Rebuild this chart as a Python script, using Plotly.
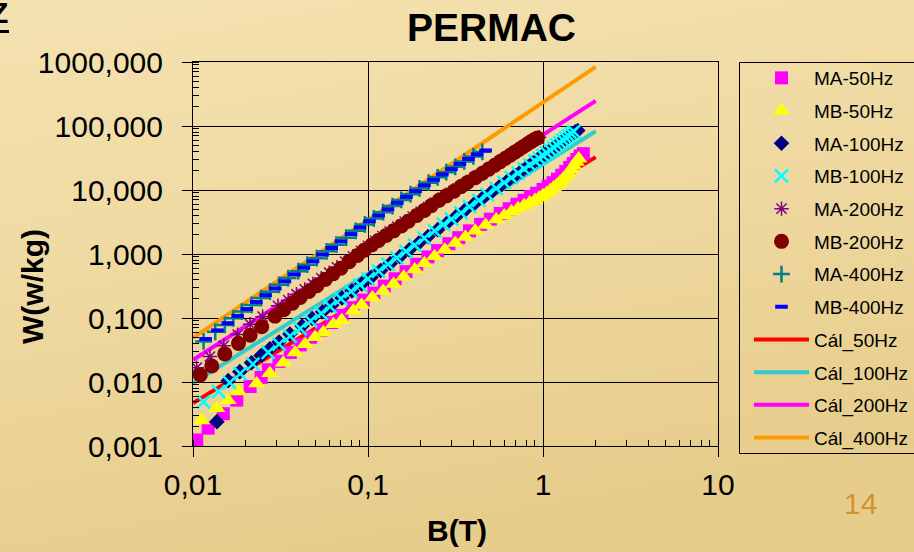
import base64
import plotly.graph_objects as go

# ---------------- data ----------------
B_MA50 = [0.0105, 0.0122, 0.0149, 0.0178, 0.0212, 0.0245, 0.027, 0.031, 0.036, 0.041, 0.047, 0.054,
          0.062, 0.071, 0.082, 0.094, 0.108, 0.124, 0.143, 0.165, 0.19, 0.22, 0.25, 0.29, 0.33, 0.38,
          0.44, 0.5, 0.57, 0.64, 0.71, 0.78, 0.85, 0.92, 1.0, 1.07, 1.14, 1.21, 1.28, 1.35, 1.42, 1.49,
          1.56, 1.63, 1.7]
W_MA50 = [0.00124, 0.0019, 0.0032, 0.0052, 0.0085, 0.0118, 0.0155, 0.021, 0.029, 0.038, 0.050, 0.065,
          0.085, 0.11, 0.145, 0.19, 0.245, 0.315, 0.41, 0.53, 0.69, 0.9, 1.13, 1.45, 1.8, 2.3,
          2.9, 3.5, 4.3, 5.1, 6.0, 6.9, 7.9, 8.9, 10.2, 11.5, 13.0, 14.8, 17.0, 19.5, 22.5, 26.0,
          30.0, 34.0, 37.0]

B_MB50 = [0.0112, 0.0137, 0.0159, 0.0182, 0.0231, 0.0275, 0.0328, 0.0383, 0.0437, 0.0498, 0.0556, 0.0634,
          0.0708, 0.0824, 0.092, 0.106, 0.122, 0.14, 0.16, 0.185, 0.21, 0.24, 0.275, 0.315, 0.36, 0.41,
          0.47, 0.54, 0.6, 0.66, 0.72, 0.78, 0.84, 0.9, 0.95, 1.0, 1.05, 1.1, 1.15, 1.2, 1.25, 1.3,
          1.35, 1.4, 1.45, 1.5, 1.55, 1.6]
W_MB50 = [0.0025, 0.0039, 0.0052, 0.0071, 0.0095, 0.0137, 0.020, 0.029, 0.039, 0.050, 0.060, 0.080,
          0.092, 0.130, 0.160, 0.21, 0.265, 0.34, 0.44, 0.57, 0.72, 0.92, 1.17, 1.48, 1.85, 2.3,
          2.85, 3.45, 4.0, 4.6, 5.2, 5.8, 6.4, 7.0, 7.6, 8.3, 9.0, 9.9, 10.9, 12.0, 13.3, 14.8,
          16.5, 18.5, 21.0, 24.0, 27.5, 31.0]

B_MA100 = [0.0137, 0.0159, 0.0185, 0.0216, 0.0245, 0.0275, 0.031, 0.0358, 0.042, 0.048, 0.055, 0.062,
           0.071, 0.081, 0.092, 0.104, 0.118, 0.134, 0.152, 0.172, 0.195, 0.22, 0.25, 0.285, 0.32,
           0.36, 0.405, 0.455, 0.51, 0.57, 0.63, 0.69, 0.75, 0.81, 0.87, 0.93, 0.98, 1.03, 1.08,
           1.13, 1.18, 1.23, 1.28, 1.33, 1.38, 1.43, 1.48, 1.53, 1.58]
W_MA100 = [0.0024, 0.0105, 0.0145, 0.020, 0.026, 0.033, 0.042, 0.056, 0.075, 0.098, 0.125, 0.158,
           0.205, 0.265, 0.34, 0.43, 0.55, 0.71, 0.91, 1.16, 1.48, 1.88, 2.4, 3.1, 3.9,
           4.9, 6.1, 7.6, 9.4, 11.6, 14.1, 16.8, 19.7, 22.9, 26.3, 29.9, 33.0, 36.5, 40.0,
           43.8, 47.8, 52.0, 56.5, 61.0, 66.0, 71.0, 76.0, 81.0, 85.0]

B_MB100 = [0.0115, 0.014, 0.0162, 0.0186, 0.022, 0.0269, 0.031, 0.0358, 0.041, 0.047, 0.054, 0.0607,
           0.07, 0.08, 0.09, 0.1, 0.115, 0.13, 0.146, 0.165, 0.185, 0.21, 0.24, 0.27, 0.3, 0.34,
           0.38, 0.43, 0.48, 0.54, 0.6, 0.66, 0.72, 0.78, 0.84, 0.9, 0.95, 1.0, 1.05, 1.1, 1.15,
           1.2, 1.25, 1.3, 1.35, 1.4, 1.45, 1.5]
W_MB100 = [0.0049, 0.0071, 0.0098, 0.0135, 0.019, 0.029, 0.039, 0.052, 0.068, 0.09, 0.118, 0.15,
           0.20, 0.26, 0.33, 0.41, 0.54, 0.69, 0.87, 1.1, 1.38, 1.77, 2.3, 2.9, 3.5, 4.4,
           5.5, 6.9, 8.5, 10.6, 13.0, 15.6, 18.4, 21.4, 24.7, 28.2, 31.3, 34.5, 38.0, 42.0, 46.0,
           50.5, 55.0, 60.0, 65.0, 70.0, 76.0, 82.0]

B_MA200 = [0.0105, 0.0125, 0.015, 0.018, 0.0212, 0.025, 0.0306, 0.035, 0.039, 0.0435, 0.0485, 0.054,
           0.06, 0.0665, 0.074, 0.082, 0.091, 0.1, 0.11, 0.121, 0.133, 0.147, 0.162, 0.18, 0.2,
           0.22, 0.242, 0.267, 0.295, 0.325, 0.355, 0.39, 0.43, 0.47, 0.51, 0.55, 0.59, 0.63,
           0.67, 0.71, 0.75, 0.79, 0.83, 0.87, 0.91, 0.95]
W_MA200 = [0.0167, 0.025, 0.037, 0.055, 0.08, 0.105, 0.155, 0.19, 0.235, 0.28, 0.34, 0.42,
           0.51, 0.62, 0.76, 0.92, 1.12, 1.34, 1.6, 1.9, 2.25, 2.68, 3.2, 3.85, 4.6,
           5.4, 6.4, 7.6, 9.0, 10.6, 12.3, 14.4, 17.0, 19.8, 22.8, 26.0, 29.5, 33.0,
           37.0, 41.0, 45.2, 49.5, 54.0, 58.5, 63.0, 67.0]

B_MB200 = [0.011, 0.0128, 0.0152, 0.0182, 0.0212, 0.0247, 0.0294, 0.033, 0.037, 0.041, 0.046, 0.051,
           0.057, 0.063, 0.07, 0.078, 0.087, 0.095, 0.105, 0.115, 0.127, 0.14, 0.155, 0.17, 0.19,
           0.21, 0.23, 0.255, 0.28, 0.31, 0.34, 0.37, 0.41, 0.45, 0.49, 0.53, 0.57, 0.61, 0.65,
           0.69, 0.73, 0.77, 0.81, 0.85, 0.89, 0.93]
W_MB200 = [0.0129, 0.0178, 0.0275, 0.040, 0.054, 0.073, 0.107, 0.135, 0.17, 0.21, 0.26, 0.32,
           0.40, 0.49, 0.60, 0.76, 0.95, 1.14, 1.38, 1.63, 1.95, 2.3, 2.75, 3.25, 4.0,
           4.8, 5.7, 6.9, 8.1, 9.6, 11.3, 13.1, 15.6, 18.3, 21.2, 24.4, 27.8, 31.3, 35.0,
           39.0, 43.0, 47.5, 52.0, 56.5, 61.0, 65.0]

B_MA400 = [0.0115, 0.0134, 0.0152, 0.017, 0.019, 0.0216, 0.0245, 0.0275, 0.031, 0.035, 0.04, 0.045,
           0.051, 0.058, 0.066, 0.075, 0.085, 0.096, 0.108, 0.122, 0.138, 0.155, 0.175, 0.197,
           0.222, 0.25, 0.28, 0.315, 0.355, 0.4, 0.45]
W_MA400 = [0.043, 0.061, 0.078, 0.099, 0.126, 0.16, 0.205, 0.258, 0.33, 0.42, 0.54, 0.68,
           0.86, 1.1, 1.4, 1.8, 2.3, 2.9, 3.6, 4.5, 5.6, 7.0, 8.6, 10.6,
           13.0, 15.8, 19.0, 23.0, 28.0, 33.5, 39.5]

B_MB400 = [0.0118, 0.0138, 0.0158, 0.018, 0.0203, 0.023, 0.026, 0.0295, 0.0335, 0.038, 0.043, 0.0485,
           0.055, 0.062, 0.07, 0.08, 0.09, 0.102, 0.115, 0.13, 0.147, 0.166, 0.187, 0.21,
           0.237, 0.266, 0.3, 0.335, 0.375, 0.42, 0.47]
W_MB400 = [0.047, 0.064, 0.083, 0.108, 0.138, 0.178, 0.228, 0.29, 0.375, 0.48, 0.61, 0.77,
           0.98, 1.24, 1.58, 2.05, 2.6, 3.25, 4.0, 5.0, 6.3, 7.8, 9.6, 11.8,
           14.4, 17.5, 21.2, 25.5, 30.5, 36.0, 41.5]

B_CAL = [0.01, 0.02, 0.05, 0.1, 0.2, 0.5, 1.0, 2.0]
W_CAL50 = [0.0047, 0.0149, 0.0687, 0.219, 0.697, 3.21, 10.2, 32.6]
W_CAL100 = [0.0096, 0.0315, 0.151, 0.494, 1.62, 7.75, 25.4, 83.0]
W_CAL200 = [0.0221, 0.0746, 0.375, 1.27, 4.29, 21.5, 72.8, 247.0]
W_CAL400 = [0.049, 0.175, 0.946, 3.39, 12.1, 65.5, 234.0, 840.0]

TITLE = "PERMAC"
X_TITLE = "B(T)"
Y_TITLE = "W(w/kg)"

# ---------------- figure ----------------
FIG_W, FIG_H = 914, 552
ML, MR, MT, MB = 193, 196, 62, 106
PW = FIG_W - ML - MR
PH = FIG_H - MT - MB


def px(xp):
    return (xp - ML) / PW


def py(yp):
    return 1 - (yp - MT) / PH


FONT = "Liberation Sans, Arial, sans-serif"

fig = go.Figure()

# calculated lines first (drawn behind the measured markers), listed last in legend
cal = [("Cál_50Hz", W_CAL50, "#FF0000"), ("Cál_100Hz", W_CAL100, "#33CCCC"),
       ("Cál_200Hz", W_CAL200, "#FF00FF"), ("Cál_400Hz", W_CAL400, "#FF9900")]
for i, (name, w, c) in enumerate(cal):
    fig.add_trace(go.Scatter(x=B_CAL, y=w, mode="lines", name=name,
                             line=dict(color=c, width=4), legendgroup=name,
                             legendrank=100 + i))

meas = [
    ("MA-50Hz", B_MA50, W_MA50, dict(symbol="square", size=13, color="#FF00FF")),
    ("MB-50Hz", B_MB50, W_MB50, dict(symbol="triangle-up", size=15, color="#FFFF00")),
    ("MA-100Hz", B_MA100, W_MA100, dict(symbol="diamond", size=12, color="#000080")),
    ("MB-100Hz", B_MB100, W_MB100, dict(symbol="x-thin", size=13, color="#00FFFF",
                                        line=dict(color="#00FFFF", width=2.5))),
    ("MA-200Hz", B_MA200, W_MA200, dict(symbol="asterisk", size=12, color="#800080",
                                        line=dict(color="#800080", width=1.5))),
    ("MB-200Hz", B_MB200, W_MB200, dict(symbol="circle", size=15, color="#800000")),
    ("MA-400Hz", B_MA400, W_MA400, dict(symbol="cross-thin", size=12, color="#008080",
                                        line=dict(color="#008080", width=2.5))),
    ("MB-400Hz", B_MB400, W_MB400, dict(symbol="line-ew", size=9, color="#0000FF",
                                        line=dict(color="#0000FF", width=4))),
]
for i, (name, b, w, mk) in enumerate(meas):
    fig.add_trace(go.Scatter(x=b, y=w, mode="markers", name=name, marker=mk,
                             legendgroup=name, legendrank=10 + i))

# background (slide texture approximated by a gradient)
svg = (f'<svg xmlns="http://www.w3.org/2000/svg" width="{FIG_W}" height="{FIG_H}" '
       f'viewBox="0 0 {FIG_W} {FIG_H}" preserveAspectRatio="none">'
       '<defs><linearGradient id="g" x1="0" y1="0" x2="0.3" y2="1">'
       '<stop offset="0" stop-color="#F4E2B1"/><stop offset="0.5" stop-color="#EFD9A1"/>'
       '<stop offset="1" stop-color="#E7CD8C"/></linearGradient></defs>'
       f'<rect width="{FIG_W}" height="{FIG_H}" fill="url(#g)"/></svg>')
src = "data:image/svg+xml;base64," + base64.b64encode(svg.encode()).decode()
fig.add_layout_image(source=src, xref="paper", yref="paper", x=px(0), y=py(0),
                     sizex=FIG_W / PW, sizey=FIG_H / PH, xanchor="left", yanchor="top",
                     sizing="stretch", layer="below")

axis_common = dict(type="log", dtick=1, showgrid=True, gridcolor="black", gridwidth=1,
                   showline=True, linecolor="black", linewidth=1, mirror=True,
                   ticks="outside", ticklen=10, tickcolor="black", tickwidth=1,
                   tickfont=dict(family=FONT, size=30, color="black"), zeroline=False,
                   minor=dict(ticks="inside", ticklen=6, tickcolor="black", tickwidth=1,
                              dtick="D1", showgrid=False))


def note(text, xp, yp, size, color="black", angle=0, xanchor="center"):
    return dict(text=text, x=px(xp), y=py(yp), xref="paper", yref="paper",
                xanchor=xanchor, yanchor="middle", showarrow=False, textangle=angle,
                font=dict(family=FONT, size=size, color=color))


fig.update_layout(
    width=FIG_W, height=FIG_H,
    margin=dict(l=ML, r=MR, t=MT, b=MB, autoexpand=False),
    paper_bgcolor="#EED8A0", plot_bgcolor="rgba(0,0,0,0)",
    separators=", ",
    xaxis=dict(axis_common, range=[-2, 1], ticklabelstandoff=2),
    yaxis=dict(axis_common, range=[-3, 3], tickformat=".3f", ticklabelstandoff=13),
    showlegend=True,
    legend=dict(x=px(739), y=py(59), xanchor="left", yanchor="top",
                bgcolor="rgba(0,0,0,0)", borderwidth=0, maxheight=600,
                font=dict(family=FONT, size=19, color="black"),
                traceorder="grouped", tracegroupgap=5, itemwidth=55, indentation=10),
    annotations=[
        note(f"<b>{TITLE}</b>", 491, 28, 39),
        note(f"<b>{X_TITLE}</b>", 457, 530, 30),
        note(f"<b>{Y_TITLE}</b>", 32, 287, 30, angle=-90),
        note("14", 860, 503, 30, color="#D4922E"),
        note("<b>Z</b>", 10, 12, 30, xanchor="right"),
    ],
    shapes=[
        dict(type="line", xref="paper", yref="paper", x0=px(0), x1=px(9),
             y0=py(31.5), y1=py(31.5), line=dict(color="black", width=3)),
        # legend frame (runs off the right edge of the slide, as in the original)
        dict(type="rect", xref="paper", yref="paper", x0=px(739.5), x1=px(930),
             y0=py(62.5), y1=py(453.5), line=dict(color="black", width=1),
             fillcolor="rgba(0,0,0,0)"),
    ],
)

fig.write_html("out.html", config={"displayModeBar": False},
               post_script="document.body.style.margin='0';document.body.style.padding='0';")
